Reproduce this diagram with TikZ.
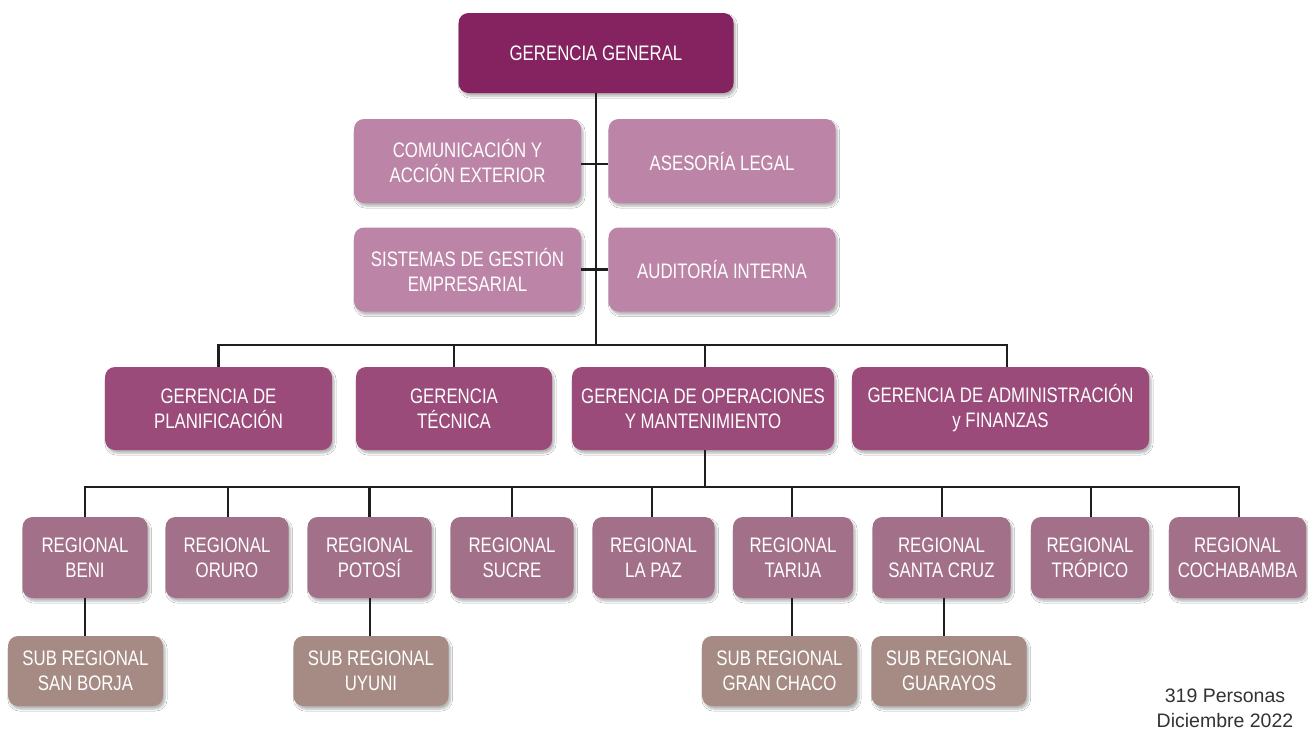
\documentclass[tikz,border=0pt]{standalone}
\usepackage{fontspec}
\setmainfont{Liberation Sans}[FakeStretch=0.8]
\newfontfamily\plainfont{Liberation Sans}
\usetikzlibrary{shadows.blur}
\definecolor{cgg}{HTML}{84235F}
\definecolor{cstaff}{HTML}{BC84A6}
\definecolor{cman}{HTML}{9A4B7A}
\definecolor{creg}{HTML}{A37089}
\definecolor{csub}{HTML}{A58B84}
\definecolor{cline}{HTML}{1E1E1E}
\definecolor{cnote}{HTML}{333333}
\begin{document}
\begin{tikzpicture}[x=1pt,y=-1pt,
  box/.style={rounded corners=10pt, inner sep=0pt, align=center, text=white,
    font=\fontsize{21}{25}\selectfont,
    blur shadow={shadow xshift=2pt, shadow yshift=-3pt, shadow blur steps=6, shadow opacity=30}},
  ggbox/.style={box, fill=cgg, minimum width=275pt, minimum height=80pt},
  staffbox/.style={box, fill=cstaff, minimum width=227pt, minimum height=84pt},
  manbox/.style={box, fill=cman, minimum height=83pt},
  regbox/.style={box, fill=creg, minimum height=81pt},
  subbox/.style={box, fill=csub, minimum width=155pt, minimum height=70pt},
  conn/.style={draw=cline, line width=2.1pt}
]
\useasboundingbox[fill=white] (0,0) rectangle (1308,729);

% top
\node[ggbox] (gg) at (596,53) {GERENCIA GENERAL};
\node[staffbox] (com) at (467.5,161) {COMUNICACIÓN Y\\ACCIÓN EXTERIOR};
\node[staffbox] (ase) at (722,161) {ASESORÍA LEGAL};
\node[staffbox] (sis) at (467.5,269.5) {SISTEMAS DE GESTIÓN\\EMPRESARIAL};
\node[staffbox] (aud) at (722,269.5) {AUDITORÍA INTERNA};

% managers
\node[manbox, minimum width=227pt] (pla) at (218.5,408.5) {GERENCIA DE\\PLANIFICACIÓN};
\node[manbox, minimum width=196pt] (tec) at (454,408.5) {GERENCIA\\TÉCNICA};
\node[manbox, minimum width=262pt] (ope) at (703,408.5) {GERENCIA DE OPERACIONES\\Y MANTENIMIENTO};
\node[manbox, minimum width=297pt] (adm) at (1000.5,408.5) {GERENCIA DE ADMINISTRACIÓN\\y FINANZAS};

% regionals
\node[regbox, minimum width=125pt] (ben) at (85,557.5) {REGIONAL\\BENI};
\node[regbox, minimum width=123pt] (oru) at (227,557.5) {REGIONAL\\ORURO};
\node[regbox, minimum width=124pt] (pot) at (369.5,557.5) {REGIONAL\\POTOSÍ};
\node[regbox, minimum width=123pt] (suc) at (512,557.5) {REGIONAL\\SUCRE};
\node[regbox, minimum width=122pt] (lpz) at (653.5,557.5) {REGIONAL\\LA PAZ};
\node[regbox, minimum width=120pt] (tar) at (793,557.5) {REGIONAL\\TARIJA};
\node[regbox, minimum width=138pt] (scz) at (941.5,557.5) {REGIONAL\\SANTA CRUZ};
\node[regbox, minimum width=118pt] (tro) at (1090,557.5) {REGIONAL\\TRÓPICO};
\node[regbox, minimum width=137pt] (cbb) at (1237.5,557.5) {REGIONAL\\COCHABAMBA};

% sub regionals
\node[subbox] (sbo) at (85.5,671) {SUB REGIONAL\\SAN BORJA};
\node[subbox] (uyu) at (371,671) {SUB REGIONAL\\UYUNI};
\node[subbox] (gch) at (779.5,671) {SUB REGIONAL\\GRAN CHACO};
\node[subbox] (gua) at (949,671) {SUB REGIONAL\\GUARAYOS};

% note
\node[align=center, text=cnote, font=\plainfont\fontsize{19.5}{25}\selectfont] (note) at (1225,708) {319 Personas\\Diciembre 2022};

% connectors
\coordinate (bus1) at (0,345);
\coordinate (bus2) at (0,487);
\draw[conn] (gg.south) -- (gg.south |- bus1);
\draw[conn] ([yshift=-3pt]com.east) -- ([yshift=-3pt]ase.west);
\draw[conn] (sis.east) -- (aud.west);
\draw[conn] (pla.north) -- (pla.north |- bus1) -- ([xshift=6.5pt]adm.north |- bus1) -- ([xshift=6.5pt]adm.north);
\draw[conn] (tec.north) -- (tec.north |- bus1);
\draw[conn] ([xshift=2pt]ope.north) -- ([xshift=2pt]ope.north |- bus1);

\draw[conn] ([xshift=2pt]ope.south) -- ([xshift=2pt]ope.south |- bus2);
\draw[conn] (ben.north) -- (ben.north |- bus2) -- ([xshift=1.5pt]cbb.north |- bus2) -- ([xshift=1.5pt]cbb.north);
\draw[conn] ([xshift=1pt]oru.north) -- ([xshift=1pt]oru.north |- bus2);
\draw[conn] (pot.north) -- (pot.north |- bus2);
\draw[conn] (suc.north) -- (suc.north |- bus2);
\draw[conn] ([xshift=-1.5pt]lpz.north) -- ([xshift=-1.5pt]lpz.north |- bus2);
\draw[conn] ([xshift=-1pt]tar.north) -- ([xshift=-1pt]tar.north |- bus2);
\draw[conn] ([xshift=0.5pt]scz.north) -- ([xshift=0.5pt]scz.north |- bus2);
\draw[conn] ([xshift=1pt]tro.north) -- ([xshift=1pt]tro.north |- bus2);

\draw[conn] (ben.south) -- (ben.south |- sbo.north);
\draw[conn] ([xshift=-1pt]uyu.north |- pot.south) -- ([xshift=-1pt]uyu.north);
\draw[conn] ([xshift=-1pt]tar.south) -- ([xshift=-1pt]tar.south |- gch.north);
\draw[conn] ([xshift=2.5pt]scz.south) -- ([xshift=2.5pt]scz.south |- gua.north);
\end{tikzpicture}
\end{document}
